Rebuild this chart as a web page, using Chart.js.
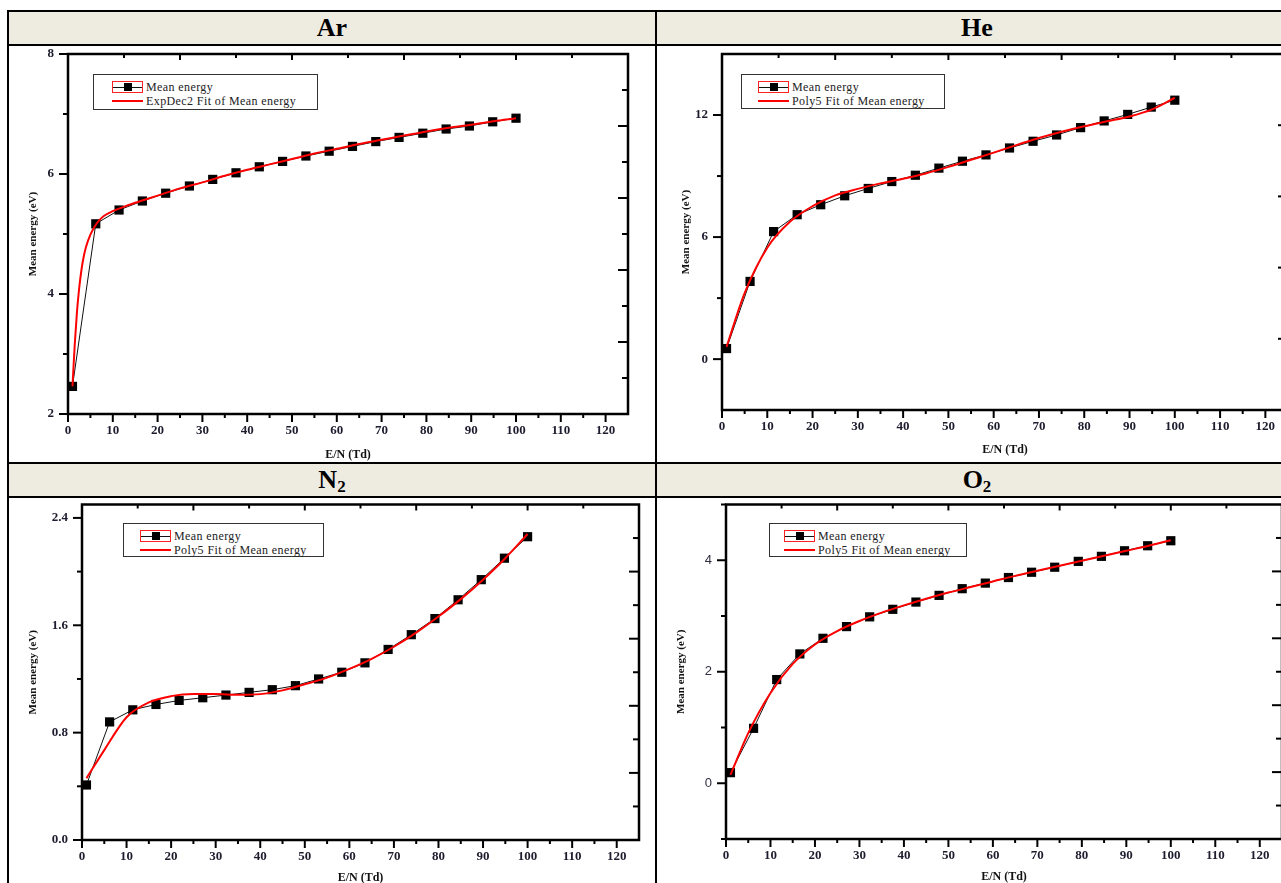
<!DOCTYPE html>
<html>
<head>
<meta charset="utf-8">
<script src="https://cdn.jsdelivr.net/npm/chart.js@4.4.1/dist/chart.umd.min.js"></script>
<style>
body { margin: 0; background: #fff; width: 1281px; height: 883px; overflow: hidden; position: relative; }
.ln { position: absolute; background: #000; }
.head { position: absolute; background: #eeece1; font: bold 26px 'Liberation Serif', serif; text-align: center; color: #000; }
.head sub { font-size: 17px; vertical-align: -4px; line-height: 0; }
canvas { position: absolute; }
.legend { position: absolute; border: 1px solid #333; background: #fff; font: 12px 'Liberation Serif', serif; color: #222; letter-spacing: 0.4px; box-sizing: border-box; }
.lrow { position: absolute; height: 14px; line-height: 14px; white-space: nowrap; }
.sym { position: absolute; width: 31px; height: 12px; top: 1px; box-sizing: border-box; }
.sym.data { border: 1px solid #f22; }
.sym.data:before { content: ''; position: absolute; left: 0; right: 0; top: 5px; height: 1px; background: #111; }
.sym.data:after { content: ''; position: absolute; left: 11px; top: 1px; width: 8px; height: 8px; background: #000; }
.sym.fit:before { content: ''; position: absolute; left: 0; right: 0; top: 5px; height: 2px; background: #f00; }
.ltxt { position: absolute; left: 34px; top: 0; }
</style>
</head>
<body>
<div class="head" style="left:9px;top:12px;width:646px;height:32px;line-height:32px;">Ar</div>
<div class="head" style="left:657px;top:12px;width:640px;height:32px;line-height:32px;">He</div>
<div class="head" style="left:9px;top:464px;width:646px;height:32px;line-height:32px;">N<sub>2</sub></div>
<div class="head" style="left:657px;top:464px;width:640px;height:32px;line-height:32px;">O<sub>2</sub></div>
<div class="ln" style="left:7px;top:10px;width:1300px;height:2px;"></div>
<div class="ln" style="left:7px;top:44px;width:1300px;height:2px;"></div>
<div class="ln" style="left:7px;top:462px;width:1300px;height:2px;"></div>
<div class="ln" style="left:7px;top:496px;width:1300px;height:2px;"></div>
<div class="ln" style="left:7px;top:10px;width:2px;height:880px;"></div>
<div class="ln" style="left:655px;top:10px;width:2px;height:880px;"></div>

<canvas id="arChart"></canvas>
<canvas id="heChart"></canvas>
<canvas id="n2Chart"></canvas>
<canvas id="o2Chart"></canvas>

<script>
// E/N values (Td), same for all four gases
var energyX = [1, 6.2, 11.4, 16.6, 21.8, 27.1, 32.3, 37.5, 42.7, 47.9, 53.1, 58.3, 63.5, 68.7, 73.9, 79.2, 84.4, 89.6, 94.8, 100];

// Mean energy (eV)
var arY = [2.46, 5.17, 5.40, 5.55, 5.68, 5.80, 5.91, 6.02, 6.12, 6.21, 6.30, 6.38, 6.46, 6.54, 6.61, 6.68, 6.75, 6.80, 6.87, 6.93];
var heY = [0.52, 3.82, 6.27, 7.10, 7.59, 8.03, 8.39, 8.73, 9.04, 9.39, 9.73, 10.04, 10.38, 10.71, 11.02, 11.38, 11.71, 12.03, 12.39, 12.73];
var n2Y = [0.41, 0.88, 0.97, 1.01, 1.04, 1.06, 1.08, 1.10, 1.12, 1.15, 1.20, 1.25, 1.32, 1.42, 1.53, 1.65, 1.79, 1.94, 2.10, 2.26];
var o2Y = [0.19, 0.985, 1.86, 2.32, 2.60, 2.81, 2.985, 3.12, 3.25, 3.37, 3.49, 3.59, 3.69, 3.785, 3.875, 3.98, 4.07, 4.17, 4.26, 4.35];

// fitted curves
var arFitX = [1, 1.5, 2, 2.5, 3, 3.5, 4, 5, 6, 7, 8, 10, 12, 15, 20, 25, 30, 35, 40, 45, 50, 55, 60, 65, 70, 75, 80, 85, 90, 95, 100];
var arFitY = [2.46, 3.15, 3.7, 4.1, 4.4, 4.62, 4.78, 4.99, 5.13, 5.23, 5.3, 5.38, 5.44, 5.52, 5.64, 5.76, 5.86, 5.97, 6.07, 6.16, 6.25, 6.34, 6.42, 6.5, 6.57, 6.64, 6.71, 6.77, 6.82, 6.88, 6.93];
var fitX = [1, 5, 10, 15, 20, 25, 30, 35, 40, 45, 50, 55, 60, 65, 70, 75, 80, 85, 90, 95, 100];
var heFitY = [0.6, 3.25, 5.48, 6.75, 7.52, 8.05, 8.37, 8.64, 8.87, 9.13, 9.45, 9.8, 10.15, 10.52, 10.87, 11.18, 11.45, 11.69, 11.93, 12.28, 12.85];
var n2FitY = [0.46, 0.67, 0.915, 1.025, 1.072, 1.088, 1.088, 1.082, 1.087, 1.115, 1.16, 1.21, 1.275, 1.35, 1.44, 1.545, 1.665, 1.795, 1.94, 2.1, 2.28];
var o2FitY = [0.15, 0.9, 1.62, 2.14, 2.49, 2.73, 2.91, 3.06, 3.19, 3.31, 3.42, 3.52, 3.62, 3.72, 3.81, 3.9, 3.99, 4.08, 4.17, 4.26, 4.36];

// tick labels
var xTickLabels = [0, 10, 20, 30, 40, 50, 60, 70, 80, 90, 100, 110, 120];
var xMinorTicks = [5, 15, 25, 35, 45, 55, 65, 75, 85, 95, 105, 115];
var topMajorTicks = [25, 50, 75, 100, 125];
var topMinorTicks = [12.5, 37.5, 62.5, 87.5, 112.5];
var arYTicks = [2, 4, 6, 8];
var heYTicks = [0, 6, 12];
var n2YTicks = [0.0, 0.8, 1.6, 2.4];
var o2YTicks = [0, 2, 4];

var serif = "'Liberation Serif', 'Times New Roman', serif";
var tickColor = '#1c1c2e';

// frame + ticks like the Origin plot (outward left/bottom, inward top/right)
var framePlugin = {
    id: 'frame',
    afterDatasetsDraw: function (chart, args, o) {
        var ctx = chart.ctx, a = chart.chartArea, x = chart.scales.x, y = chart.scales.y;
        ctx.save();
        ctx.strokeStyle = '#000';
        ctx.lineWidth = 2;
        function tick(x1, y1, x2, y2) { ctx.beginPath(); ctx.moveTo(x1, y1); ctx.lineTo(x2, y2); ctx.stroke(); }
        xTickLabels.forEach(function (v) { var p = x.getPixelForValue(v); tick(p, a.bottom, p, a.bottom + 8); });
        xMinorTicks.forEach(function (v) { var p = x.getPixelForValue(v); tick(p, a.bottom, p, a.bottom + 4); });
        topMajorTicks.forEach(function (v) { var p = x.getPixelForValue(v); tick(p, a.top, p, a.top + 6); });
        topMinorTicks.forEach(function (v) { var p = x.getPixelForValue(v); tick(p, a.top, p, a.top + 4); });
        o.yMajor.forEach(function (v) { var p = y.getPixelForValue(v); tick(a.left - 9, p, a.left, p); });
        o.yMinor.forEach(function (v) { var p = y.getPixelForValue(v); tick(a.left - 5, p, a.left, p); });
        o.rMajor.forEach(function (v) { var p = y.getPixelForValue(v); tick(a.right - 10, p, a.right, p); });
        o.rMinor.forEach(function (v) { var p = y.getPixelForValue(v); tick(a.right - 6, p, a.right, p); });
        ctx.lineWidth = 2.5;
        ctx.strokeRect(a.left, a.top, a.right - a.left, a.bottom - a.top);
        ctx.restore();
    }
};

function makeLegend(box, fitLabel) {
    var lg = document.createElement('div');
    lg.className = 'legend';
    lg.style.left = box[0] + 'px';
    lg.style.top = box[1] + 'px';
    lg.style.width = (box[2] - box[0]) + 'px';
    lg.style.height = (box[3] - box[1]) + 'px';
    lg.innerHTML =
        '<div class="lrow" style="left:' + box[4] + 'px;top:5px"><span class="sym data"></span><span class="ltxt">Mean energy</span></div>' +
        '<div class="lrow" style="left:' + box[4] + 'px;top:19px"><span class="sym fit"></span><span class="ltxt">' + fitLabel + '</span></div>';
    document.body.appendChild(lg);
}

function makeChart(id, c) {
    var cv = document.getElementById(id);
    var cl = c.canvas[0], ct = c.canvas[1], cw = c.canvas[2], ch = c.canvas[3];
    cv.style.left = cl + 'px';
    cv.style.top = ct + 'px';
    cv.width = cw;
    cv.height = ch;
    var p = c.plot;
    var yW = p[0] - cl, padTop = p[1] - ct, padRight = cl + cw - p[2], xH = ct + ch - p[3];
    var lh = 12 * 1.2;

    new Chart(cv, {
        type: 'line',
        data: {
            datasets: [
                {
                    label: c.fitLabel,
                    data: c.fitX.map(function (v, i) { return { x: v, y: c.fitY[i] }; }),
                    borderColor: '#ff0000',
                    borderWidth: 2,
                    pointRadius: 0,
                    cubicInterpolationMode: 'monotone',
                    fill: false,
                    clip: 8
                },
                {
                    label: 'Mean energy',
                    data: energyX.map(function (v, i) { return { x: v, y: c.y[i] }; }),
                    borderColor: '#111',
                    borderWidth: 1,
                    pointStyle: 'rect',
                    pointRadius: 6.5,
                    pointBackgroundColor: '#000',
                    pointBorderColor: '#000',
                    pointBorderWidth: 0,
                    tension: 0,
                    fill: false,
                    clip: 8
                }
            ]
        },
        options: {
            responsive: false,
            animation: false,
            devicePixelRatio: 1,
            layout: { padding: { left: 0, top: padTop, right: padRight, bottom: 0 } },
            plugins: {
                legend: { display: false },
                tooltip: { enabled: false },
                frame: { yMajor: c.yTicks, yMinor: c.yMinor, rMajor: c.rMajor, rMinor: c.rMinor }
            },
            scales: {
                x: {
                    type: 'linear',
                    min: 0,
                    max: 125,
                    afterFit: function (s) { s.height = xH; s.paddingLeft = 0; s.paddingRight = 0; },
                    afterBuildTicks: function (s) { s.ticks = xTickLabels.map(function (v) { return { value: v }; }); },
                    grid: { display: false, drawTicks: false },
                    border: { display: false },
                    ticks: { padding: 9, autoSkip: false, maxRotation: 0, color: tickColor, font: { family: serif, weight: 'bold', size: 13 } },
                    title: {
                        display: true, text: 'E/N (Td)', color: '#111',
                        font: { family: serif, weight: 'bold', size: 12 },
                        padding: { top: 0, bottom: Math.max(0, ch - (c.xTitle - ct) - lh / 2) }
                    }
                },
                y: {
                    type: 'linear',
                    min: c.yMin,
                    max: c.yMax,
                    afterFit: function (s) { s.width = yW; s.paddingTop = 0; s.paddingBottom = 0; },
                    afterBuildTicks: function (s) { s.ticks = c.yTicks.map(function (v) { return { value: v }; }); },
                    grid: { display: false, drawTicks: false },
                    border: { display: false },
                    ticks: {
                        padding: 14, autoSkip: false, color: c.yTickColor || tickColor,
                        font: c.yTickFont || { family: serif, weight: 'bold', size: 13 },
                        callback: function (v) { return c.yFmt ? c.yFmt(v) : v; }
                    },
                    title: {
                        display: true, text: 'Mean energy (eV)', color: '#111',
                        font: { family: serif, weight: 'bold', size: 11 },
                        padding: { top: Math.max(0, (c.yTitle - cl) - 11 * 1.2 / 2), bottom: 0 }
                    }
                }
            }
        },
        plugins: [framePlugin]
    });
    makeLegend(c.legend, c.fitLabel);
}

makeChart('arChart', {
    canvas: [9, 46, 646, 416], plot: [68, 54, 628, 414],
    y: arY, fitX: arFitX, fitY: arFitY, fitLabel: 'ExpDec2 Fit of Mean energy',
    yMin: 2, yMax: 8, yTicks: arYTicks, yMinor: [3, 5, 7],
    rMajor: [3.2, 4.4, 5.6, 6.8], rMinor: [2.6, 3.8, 5.0, 6.2, 7.4],
    xTitle: 455, yTitle: 33,
    legend: [93, 74, 318, 110, 18]
});

makeChart('heChart', {
    canvas: [657, 46, 640, 416], plot: [722, 54, 1288, 410],
    y: heY, fitX: fitX, fitY: heFitY, fitLabel: 'Poly5 Fit of Mean energy',
    yMin: -2.5, yMax: 15, yTicks: heYTicks, yMinor: [3, 9],
    rMajor: [1, 4.5, 8, 11.5], rMinor: [-0.75, 2.75, 6.25, 9.75, 13.25],
    xTitle: 450, yTitle: 686,
    legend: [741, 74, 945, 109, 16]
});

makeChart('n2Chart', {
    canvas: [9, 498, 646, 400], plot: [82, 503, 639, 840],
    y: n2Y, fitX: fitX, fitY: n2FitY, fitLabel: 'Poly5 Fit of Mean energy',
    yMin: 0, yMax: 2.5, yTicks: n2YTicks, yMinor: [0.4, 1.2, 2.0],
    rMajor: [0.5, 1.0, 1.5, 2.0], rMinor: [0.25, 0.75, 1.25, 1.75, 2.25],
    yFmt: function (v) { return v.toFixed(1); },
    xTitle: 878, yTitle: 33,
    legend: [123, 523, 324, 557, 16]
});

makeChart('o2Chart', {
    canvas: [657, 498, 640, 400], plot: [726, 503, 1282, 839],
    y: o2Y, fitX: fitX, fitY: o2FitY, fitLabel: 'Poly5 Fit of Mean energy',
    yMin: -1, yMax: 5, yTicks: o2YTicks, yMinor: [-1, 1, 3, 5],
    rMajor: [0.2, 1.4, 2.6, 3.8], rMinor: [-0.4, 0.8, 2.0, 3.2, 4.4],
    yTickColor: '#2e2e40', yTickFont: { family: "'Liberation Sans', Arial, sans-serif", size: 13 },
    xTitle: 877, yTitle: 681,
    legend: [769, 523, 967, 557, 14]
});
</script>
</body>
</html>
